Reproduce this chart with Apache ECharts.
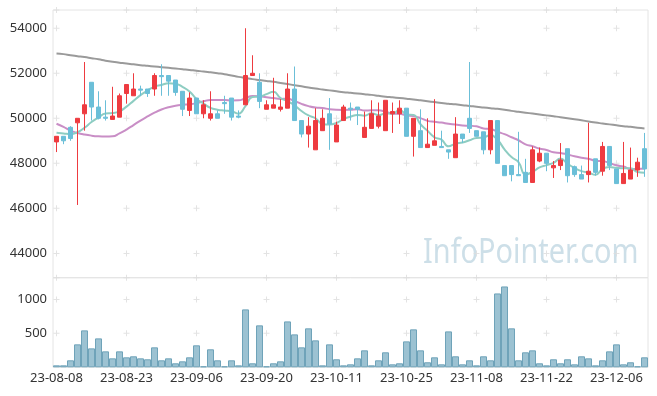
<!DOCTYPE html>
<html><head><meta charset="utf-8">
<script src="https://cdn.jsdelivr.net/npm/echarts/dist/echarts.min.js"></script>
<style>html,body{margin:0;padding:0;background:#fff}#c{width:657px;height:396px}</style>
</head><body><div id="c"></div>
<script>
const dates = ['23-08-08','23-08-09','23-08-10','23-08-11','23-08-14','23-08-16','23-08-17','23-08-18','23-08-21','23-08-22',
'23-08-23','23-08-24','23-08-25','23-08-28','23-08-29','23-08-30','23-08-31','23-09-01','23-09-04','23-09-05',
'23-09-06','23-09-07','23-09-08','23-09-11','23-09-12','23-09-13','23-09-14','23-09-15','23-09-18','23-09-19',
'23-09-20','23-09-21','23-09-22','23-09-25','23-09-26','23-09-27','23-10-04','23-10-05','23-10-06','23-10-10',
'23-10-11','23-10-12','23-10-13','23-10-16','23-10-17','23-10-18','23-10-19','23-10-20','23-10-23','23-10-24',
'23-10-25','23-10-26','23-10-27','23-10-30','23-10-31','23-11-01','23-11-02','23-11-03','23-11-06','23-11-07',
'23-11-08','23-11-09','23-11-10','23-11-13','23-11-14','23-11-15','23-11-16','23-11-17','23-11-20','23-11-21',
'23-11-22','23-11-23','23-11-24','23-11-27','23-11-28','23-11-29','23-11-30','23-12-01','23-12-04','23-12-05',
'23-12-06','23-12-07','23-12-08','23-12-11','23-12-12'];

const opens = [48950,49200,49600,49800,50200,51600,50500,50050,49950,50050,
51100,51000,51300,51300,51300,51900,51900,51700,51200,50350,
50900,50200,50000,50200,50700,50900,50100,50600,51900,51600,
50400,50450,50400,50450,51300,49900,49300,48600,49450,50200,
48950,49900,50450,50500,49150,49550,49650,49450,50200,50200,
50450,49200,49450,48700,48800,48750,48600,48250,49300,50000,
49450,49400,48600,49900,47900,47900,47500,47600,47150,48100,
48450,47800,47900,48650,47850,47500,47500,48200,47650,48750,
47750,47100,47300,47700,48650];
const closes = [49200,49000,49100,50000,50600,50500,50000,50000,50100,51000,
51500,51300,51250,51100,51900,51850,51650,51150,50400,50900,
50200,50600,50200,50000,50650,50050,50050,51900,52000,50750,
50600,50600,50500,51300,49900,49300,49650,49900,50000,49750,
49700,50500,50400,50400,49600,50200,50100,50800,50300,50450,
49200,50000,48700,48850,49000,48700,48500,49300,49100,49550,
49200,48600,49900,48000,47450,47500,47450,47150,48600,48450,
48000,47900,48150,47450,47500,47300,47650,47600,48750,47900,
47100,47550,47700,48050,47750];
const lows = [48500,48850,49000,46150,49450,49900,49950,49900,49950,50050,
50650,51000,51000,50950,51000,51000,51000,51000,50100,50100,
50200,50000,49900,50000,50200,49900,50000,50600,51900,50450,
50400,50450,50300,50450,49900,49150,48700,48600,49450,48600,
48950,49900,49900,49700,49150,49550,49550,49450,49350,49750,
49200,48300,48700,48700,48800,48700,48200,48250,48900,49350,
49200,48400,48400,48000,47450,47200,47450,47150,47150,48050,
47650,47350,47700,47150,47400,47300,47150,47450,47450,47700,
47100,47100,47300,47400,47400];
const highs = [49200,49200,49650,50000,52500,51600,51200,50800,51400,51100,
51500,52000,51450,51300,52000,52400,51900,51700,51200,51150,
50900,50800,51200,50350,51000,50900,50350,54000,52800,52000,
50800,51800,50850,52000,52300,49900,50050,50450,50400,50900,
49850,50600,50700,50500,50300,50800,50700,50800,50700,50800,
50450,50000,50400,50000,50850,49450,48600,50050,49300,52500,
49450,49400,49900,49900,47900,47900,49400,48200,48750,48700,
48450,48100,48900,48650,47900,47900,49800,48200,48950,48750,
47750,48950,48700,48250,49350];

const ma5 = [49360,49330,49300,49380,49579,49834,50033,50214,50232,50310,
50517,50774,51029,51231,51409,51480,51556,51538,51396,51191,
50860,50653,50461,50381,50341,50311,50207,50545,50947,50965,
51075,51180,50900,50758,50580,50323,50127,50003,49742,49719,
49793,49964,50071,50151,50118,50222,50140,50217,50199,50374,
50173,50152,49737,49446,49155,49051,48754,48874,48921,49025,
49129,49144,49262,49044,48622,48278,48050,47502,47620,47819,
47920,48018,48211,47982,47792,47652,47594,47490,47754,47834,
47801,47783,47783,47610,47584];
const ma20 = [49760,49620,49450,49350,49280,49230,49200,49190,49200,49330,
49500,49700,49900,50080,50250,50390,50490,50560,50600,50622,
50673,50754,50811,50810,50813,50792,50798,50893,50989,50977,
50932,50899,50861,50870,50770,50642,50542,50477,50457,50401,
50375,50369,50380,50400,50346,50353,50353,50298,50213,50198,
50128,50096,50007,49885,49842,49810,49753,49725,49679,49668,
49644,49548,49522,49402,49294,49158,49025,48844,48758,48655,
48595,48492,48462,48392,48315,48245,48201,48116,48100,48017,
47912,47860,47751,47753,47769];
const ma60 = [52880,52850,52800,52760,52720,52670,52620,52560,52510,52470,
52430,52400,52360,52330,52300,52270,52240,52210,52180,52150,
52110,52080,52040,52000,51960,51900,51840,51790,51740,51700,
51660,51620,51570,51520,51470,51420,51370,51320,51280,51240,
51200,51160,51130,51100,51070,51040,51000,50960,50930,50900,
50870,50840,50800,50760,50720,50680,50650,50620,50580,50550,
50510,50480,50450,50420,50380,50330,50290,50250,50210,50170,
50130,50090,50050,50000,49960,49910,49860,49810,49770,49730,
49690,49650,49620,49580,49550];

const volumes = [29,29,103,338,544,279,426,235,132,235,
147,162,132,118,294,103,132,59,88,147,
324,15,265,103,15,103,29,853,59,618,
15,59,88,676,485,294,574,397,29,338,
118,29,44,132,250,29,103,221,44,59,
382,559,250,74,147,44,529,162,44,103,
29,162,103,1088,1191,574,103,221,250,59,
29,118,59,118,44,162,132,29,103,235,
338,44,74,15,147];

const priceTicks = [44000,46000,48000,50000,52000,54000];
const volumeTicks = [500,1000];
const priceMin = 42920, priceMax = 54810, volMax = 1320;
const labelStep = 10;

const font = 'Noto Sans';
const candleData = dates.map((d,i)=>[opens[i],closes[i],lows[i],highs[i]]);
const labelIdx = dates.map((d,i)=>i).filter(i=>i%labelStep===0);
const crossMain = [];
labelIdx.forEach(i=>[priceMin].concat(priceTicks,[priceMax]).forEach(v=>crossMain.push([dates[i],v])));
const crossVol = [];
labelIdx.forEach(i=>volumeTicks.forEach(v=>crossVol.push([dates[i],v])));
const crossSym = 'path://M2.5,0H3.5V2.5H6V3.5H3.5V6H2.5V3.5H0V2.5H2.5Z';
const plain = v => String(v);

const chart = echarts.init(document.getElementById('c'));
chart.setOption({
  animation:false,
  graphic:[{type:'text', x:423, y:236, scaleX:0.85, z:0, silent:true,
    style:{text:'InfoPointer.com', fontSize:34, fontFamily:font, fill:'#cddfe8'}}],
  grid:[
    {left:53,right:9,top:10,height:267.7,show:true,borderColor:'#e4e4e4',borderWidth:1},
    {left:53,right:9,top:277.7,height:89.6,show:true,borderColor:'#e4e4e4',borderWidth:1}
  ],
  xAxis:[
    {type:'category',data:dates,gridIndex:0,boundaryGap:true,axisLine:{show:false},axisTick:{show:false},axisLabel:{show:false},splitLine:{show:false}},
    {type:'category',data:dates,gridIndex:1,boundaryGap:true,axisLine:{show:false},axisTick:{show:false},
      axisLabel:{interval:labelStep-1,color:'#333',fontSize:13,fontFamily:font,margin:4},splitLine:{show:false}}
  ],
  yAxis:[
    {type:'value',gridIndex:0,min:priceMin,max:priceMax,splitNumber:5,axisLine:{show:false},axisTick:{show:false},splitLine:{show:false},
      axisLabel:{showMinLabel:false,showMaxLabel:false,color:'#333',fontSize:13,fontFamily:font,margin:6,formatter:plain}},
    {type:'value',gridIndex:1,min:0,max:volMax,interval:500,axisLine:{show:false},axisTick:{show:false},splitLine:{show:false},
      axisLabel:{showMinLabel:false,showMaxLabel:false,color:'#333',fontSize:13,fontFamily:font,margin:6,formatter:plain}}
  ],
  series:[
    {type:'scatter',xAxisIndex:0,yAxisIndex:0,data:crossMain,symbol:crossSym,symbolSize:6,silent:true,clip:false,z:1,itemStyle:{color:'#dcdcdc'}},
    {type:'scatter',xAxisIndex:1,yAxisIndex:1,data:crossVol,symbol:crossSym,symbolSize:6,silent:true,clip:false,z:1,itemStyle:{color:'#dcdcdc'}},
    {type:'line',name:'MA60',data:ma60,xAxisIndex:0,yAxisIndex:0,showSymbol:false,smooth:true,lineStyle:{color:'#9a9a9a',width:2},z:2},
    {type:'line',name:'MA20',data:ma20,xAxisIndex:0,yAxisIndex:0,showSymbol:false,smooth:true,lineStyle:{color:'#c98ec6',width:2},z:2},
    {type:'line',name:'MA5',data:ma5,xAxisIndex:0,yAxisIndex:0,showSymbol:false,smooth:true,lineStyle:{color:'#8ecdc2',width:2},z:2},
    {type:'candlestick',data:candleData,xAxisIndex:0,yAxisIndex:0,barWidth:5,z:3,
      itemStyle:{color:'#ee3b40',color0:'#6bbfd8',borderColor:'#ee3b40',borderColor0:'#6bbfd8',borderWidth:1}},
    {type:'bar',data:volumes,xAxisIndex:1,yAxisIndex:1,barCategoryGap:'0%',z:3,
      itemStyle:{color:'#9cc2d2',borderColor:'#6fa3b9',borderWidth:1}}
  ]
});
</script></body></html>
